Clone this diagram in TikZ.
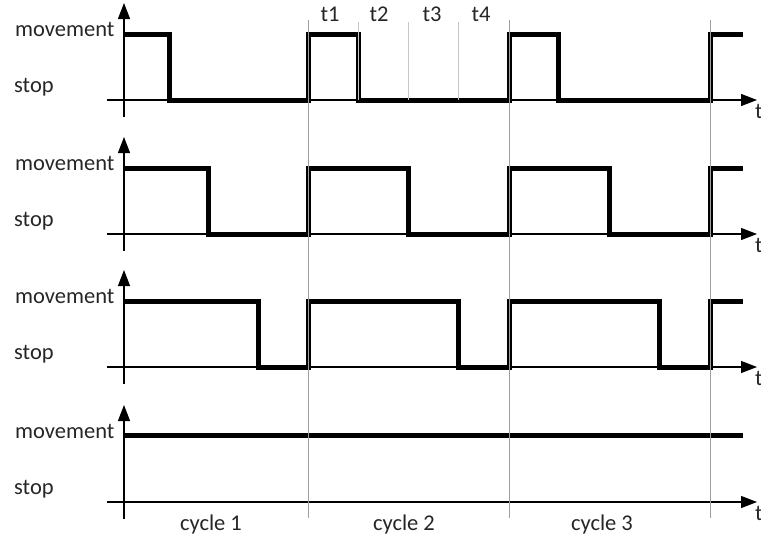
\documentclass[tikz,border=0pt]{standalone}
\usepackage{fontspec}
\setmainfont{Carlito}
\usetikzlibrary{arrows.meta}
\begin{document}
\begin{tikzpicture}[x=1pt,y=-1pt,
  axis/.style={line width=1.3pt,-{Triangle[length=16pt,width=12pt]}},
  sig/.style={line width=5pt, line join=miter, line cap=butt},
  cyc/.style={gray!75, line width=1pt},
  tline/.style={gray!45, line width=0.9pt},
  lab/.style={font=\fontsize{22.5}{26}\selectfont, inner sep=0pt, text=black!85}]
\useasboundingbox (0,0) rectangle (761,541);
% axes and labels
\foreach \B [count=\i] in {100,234,367,502} {
  \pgfmathsetmacro\H{\B-66}
  \draw[axis] (107,\B) -- (757,\B);
  \draw[axis] (124,\B+17) -- (124,\B-97);
  \node[lab, anchor=base west] (mov\i) at (15,\H+2) {movement};
  \node[lab, anchor=base west] (stop\i) at (14,\B-8) {stop};
  \node[lab, anchor=base west] (t\i) at (755,\B+18) {t};
}
% signals
\foreach \B/\fa/\fb/\fc in {100/169/358/558, 234/208/408/609, 367/258/458/659} {
  \pgfmathsetmacro\H{\B-66}
  \draw[sig] (124,\H) -- (\fa,\H) -- (\fa,\B) -- (308,\B) -- (308,\H) -- (\fb,\H) -- (\fb,\B)
    -- (509,\B) -- (509,\H) -- (\fc,\H) -- (\fc,\B) -- (710,\B) -- (710,\H) -- (743,\H);
}
\draw[sig] (124,435) -- (743,435);
% cycle lines
\foreach \x in {308,509,710} \draw[cyc] (\x,20) -- (\x,518);
\foreach \x in {358,408,458} \draw[tline] (\x,22) -- (\x,100);
% interval labels
\node[lab, anchor=base] (t1l) at (330,21) {t1};
\node[lab, anchor=base] (t2l) at (379,21) {t2};
\node[lab, anchor=base] (t3l) at (432,21) {t3};
\node[lab, anchor=base] (t4l) at (481,21) {t4};
% cycle labels
\node[lab, anchor=base] (c1) at (211,530) {cycle 1};
\node[lab, anchor=base] (c2) at (404,530) {cycle 2};
\node[lab, anchor=base] (c3) at (602,530) {cycle 3};
\end{tikzpicture}
\end{document}
